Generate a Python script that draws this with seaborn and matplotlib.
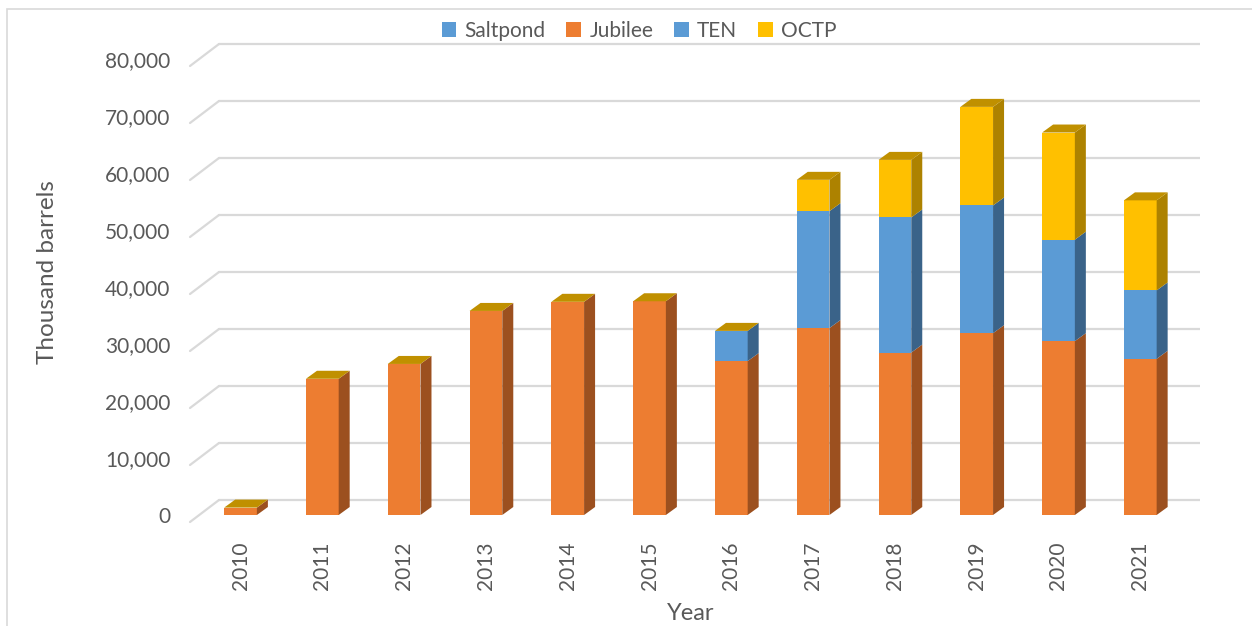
import numpy as np
import pandas as pd
import matplotlib
matplotlib.use("Agg")
import matplotlib.pyplot as plt
from matplotlib.patches import Polygon, Patch, Rectangle
import seaborn as sns

# data (thousand barrels)
years = ["2010", "2011", "2012", "2013", "2014", "2015", "2016", "2017", "2018", "2019", "2020", "2021"]
saltpond = [0, 0, 0, 0, 0, 0, 0, 0, 0, 0, 0, 0]
jubilee = [1300, 23900, 26500, 35800, 37400, 37500, 27000, 32800, 28500, 31900, 30500, 27400]
ten = [0, 0, 0, 0, 0, 0, 5300, 20500, 23700, 22400, 17800, 12000]
octp = [0, 0, 0, 0, 0, 0, 0, 5500, 10100, 17300, 18800, 15800]
yticks = [0, 10000, 20000, 30000, 40000, 50000, 60000, 70000, 80000]

series = ["Saltpond", "Jubilee", "TEN", "OCTP"]
front = {"Saltpond": "#5B9BD5", "Jubilee": "#ED7D31", "TEN": "#5B9BD5", "OCTP": "#FFC000"}
side = {"Saltpond": "#3A6389", "Jubilee": "#9C501F", "TEN": "#3A6389", "OCTP": "#AD8200"}
top_col = "#C09000"
txt = "#595959"
grid_col = "#D9D9D9"

df = pd.DataFrame({"Year": years, "Saltpond": saltpond, "Jubilee": jubilee, "TEN": ten, "OCTP": octp})
cum = df[series].cumsum(axis=1)

sns.set_style("white")
plt.rcParams["font.family"] = ["Lato", "DejaVu Sans"]

fig = plt.figure(figsize=(12.52, 6.26), dpi=100)
W, H = 1252, 626
ax = fig.add_axes([180 / W, 1 - 525 / H, 1020 / W, 485 / H])

# stacked bars: draw the cumulative tops from tallest to shortest
for s in reversed(series):
    sns.barplot(x="Year", y=cum[s], data=df.assign(**{s: cum[s]}), color=front[s],
                width=0.4, saturation=1, linewidth=0, ax=ax, zorder=3)

xlim = (-0.74, 11.73)
ylim = (-1754, 83333)
ax.set_xlim(*xlim)
ax.set_ylim(*ylim)

# pixel -> data sizes for the fake depth
px_x = (xlim[1] - xlim[0]) / 1020
px_y = (ylim[1] - ylim[0]) / 485
dx, dy = 11 * px_x, 8 * px_y

# side and top faces, built from the bar patches
bars = ax.patches[-len(years):]  # lowest layer gives x positions
for i, b in enumerate(bars):
    x0 = b.get_x()
    x1 = x0 + b.get_width()
    lo = 0
    for s in series:
        hi = cum[s].iloc[i]
        if hi > lo:
            ax.add_patch(Polygon([(x1, lo), (x1 + dx, lo + dy), (x1 + dx, hi + dy), (x1, hi)],
                                 closed=True, facecolor=side[s], edgecolor="none", zorder=3))
        lo = hi
    ax.add_patch(Polygon([(x0, lo), (x1, lo), (x1 + dx, lo + dy), (x0 + dx, lo + dy)],
                         closed=True, facecolor=top_col, edgecolor="none", zorder=4))

# back wall gridlines with the slanted side edges
gx0, gx1 = (219 - 180) * px_x + xlim[0], (1202 - 180) * px_x + xlim[0]
fx0 = (190 - 180) * px_x + xlim[0]
back = 15 * px_y
drop = 7 * px_y
for v in yticks:
    ax.plot([gx0, gx1], [v + back, v + back], color=grid_col, lw=1.6, zorder=1)
    ax.plot([fx0, gx0], [v - drop, v + back], color=grid_col, lw=1.6, zorder=1)

ax.set_yticks(yticks)
ax.set_yticklabels([f"{v:,}" for v in yticks])
ax.tick_params(axis="y", length=0, pad=7, labelsize=15, labelcolor=txt)
ax.tick_params(axis="x", length=0, pad=12, labelsize=15, labelcolor=txt, labelrotation=90)
for sp in ax.spines.values():
    sp.set_visible(False)
ax.grid(False)

ax.set_ylabel("Thousand barrels", fontsize=17.5, color=txt)
ax.yaxis.set_label_coords((58 - 180) / 1020, (525 - 272) / 485)
ax.set_xlabel("Year", fontsize=17, color=txt)
ax.xaxis.set_label_coords((691 - 180) / 1020, (525 - 603) / 485)

handles = [Patch(facecolor=front[s], edgecolor="none") for s in series]
fig.legend(handles, series, loc="center", bbox_to_anchor=(639 / W, 1 - 31 / H), ncol=4,
           frameon=False, fontsize=15, labelcolor=txt, handlelength=0.7, handleheight=0.7,
           handletextpad=0.4, columnspacing=1.0)

fig.add_artist(Rectangle((7 / W, -0.01), 1.2, 1 - 9 / H + 0.01, transform=fig.transFigure,
                         facecolor="none", edgecolor=grid_col, lw=1.2))

fig.savefig("out.png", dpi=100)
